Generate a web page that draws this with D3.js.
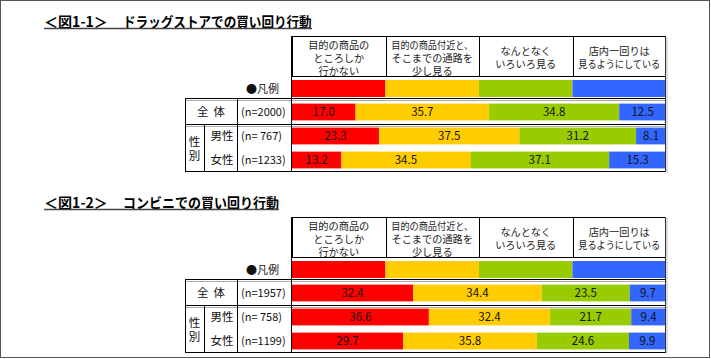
<!DOCTYPE html>
<html><head><meta charset="utf-8">
<script src="https://cdn.jsdelivr.net/npm/d3@7/dist/d3.min.js"></script>
<style>
html,body{margin:0;padding:0;background:#fff;}
svg{display:block;}
text{font-family:"Noto Sans CJK JP","Noto Sans",sans-serif;}
</style></head>
<body>
<svg id="chart" width="711" height="359"></svg>
<script>
// ---- data ----
const seriesKeys = ["s1","s2","s3","s4"];
const seriesColors = ["#FF0000","#FFCC00","#99CC00","#3366FF"];
const headerLines = [
  ["目的の商品の","ところしか","行かない"],
  ["目的の商品付近と、","そこまでの通路を","少し見る"],
  ["なんとなく","いろいろ見る"],
  ["店内一回りは","見るようにしている"]
];
const legendValues = [25,25,25,25];
const rowNames = ["全体","男性","女性"];
const titles = [["＜図1-1＞","ドラッグストアでの買い回り行動"],["＜図1-2＞","コンビニでの買い回り行動"]];
const drugN = ["(n=2000)","(n= 767)","(n=1233)"];
const convN = ["(n=1957)","(n= 758)","(n=1199)"];
const drugAll = [17.0,35.7,34.8,12.5];
const drugMale = [23.3,37.5,31.2,8.1];
const drugFemale = [13.2,34.5,37.1,15.3];
const convAll = [32.4,34.4,23.5,9.7];
const convMale = [36.6,32.4,21.7,9.4];
const convFemale = [29.7,35.8,24.6,9.9];

const svg = d3.select("#chart");
// page border
svg.append("rect").attr("x",0.5).attr("y",0.5).attr("width",709).attr("height",357)
  .attr("fill","#fff").attr("stroke","#555").attr("stroke-width",1);

const x = d3.scaleLinear().domain([0,100]).range([292,666]);
const color = d3.scaleOrdinal().domain(seriesKeys).range(seriesColors);
const fmt = d3.format(".1f");

function toRow(name, vals){ const o={name}; seriesKeys.forEach((k,i)=>o[k]=vals[i]); return o; }

function stretchText(g, x0, y0, size, str, targetW){
  const t = g.append("text").attr("x",0).attr("y",0).attr("font-size",size).attr("font-weight","bold").attr("fill","#000").text(str);
  const w = t.node().getComputedTextLength();
  t.attr("transform",`translate(${x0},${y0}) scale(${targetW/w},1)`);
  return t;
}

function panel(dy, title, nLabels, rows, t2len){
  const g = svg.append("g").attr("transform",`translate(0,${dy})`);
  // title
  stretchText(g, 44, 26.5, 14, title[0], 64);
  stretchText(g, 123, 26.5, 14, title[1], t2len);
  g.append("line").attr("x1",44).attr("x2",123+t2len).attr("y1",28.5).attr("y2",28.5).attr("stroke","#444").attr("stroke-width",1.5);

  // header
  const cols = d3.cumsum([0].concat(legendValues));
  g.append("rect").attr("x",292.5).attr("y",36.5).attr("width",373).attr("height",40).attr("fill","none").attr("stroke","#000");
  headerLines.forEach((lines,i)=>{
    if(i>0) g.append("line").attr("x1",Math.round(x(cols[i]))+0.5).attr("x2",Math.round(x(cols[i]))+0.5).attr("y1",36).attr("y2",77).attr("stroke","#000");
    const cx = (x(cols[i])+x(cols[i+1]))/2;
    const lh = 13, cy = 57.5;
    lines.forEach((s,j)=>{
      const t = g.append("text").attr("x",cx).attr("y",cy + (j-(lines.length-1)/2)*lh + 4)
        .attr("text-anchor","middle").attr("font-size",10.2).attr("fill","#222").text(s);
      const w = t.node().getComputedTextLength();
      if (w > 82) t.attr("textLength",82).attr("lengthAdjust","spacingAndGlyphs");
    });
  });

  // legend bar
  const legRow = toRow("凡例", legendValues);
  const legStack = d3.stack().keys(seriesKeys)([legRow]);
  g.append("g").selectAll("rect").data(legStack).join("rect")
    .attr("x",d=>x(d[0][0])).attr("width",d=>x(d[0][1])-x(d[0][0]))
    .attr("y",80).attr("height",17).attr("fill",d=>color(d.key));
  g.append("text").attr("x",279).attr("y",93).attr("text-anchor","end").attr("font-size",11).attr("fill","#111").text("●凡例");

  // rows
  const y = d3.scaleBand().domain(rowNames).range([100,172]).paddingInner(0.3).paddingOuter(0.15);
  const data = rows.map((v,i)=>toRow(rowNames[i], v));
  const stack = d3.stack().keys(seriesKeys)(data);
  const sg = g.append("g");
  stack.forEach(layer=>{
    sg.selectAll(null).data(layer).join("rect")
      .attr("x",d=>x(d[0])).attr("width",d=>Math.min(x(d[1]),666)-x(d[0]))
      .attr("y",d=>y(d.data.name)).attr("height",y.bandwidth())
      .attr("fill",color(layer.key));
    sg.selectAll(null).data(layer).join("text")
      .attr("x",d=>(x(d[0])+Math.min(x(d[1]),666))/2)
      .attr("y",d=>y(d.data.name)+y.bandwidth()/2+4)
      .attr("text-anchor","middle").attr("font-size",11.5)
      .attr("font-family","'Liberation Sans',sans-serif")
      .attr("fill","#111")
      .text(d=>fmt(d.data[layer.key]));
  });

  // table lines
  const dbl = (x1,x2,yy)=>{
    g.append("line").attr("x1",x1).attr("x2",x2).attr("y1",yy+0.5).attr("y2",yy+0.5).attr("stroke","#000");
    g.append("line").attr("x1",x1).attr("x2",x2).attr("y1",yy+2.5).attr("y2",yy+2.5).attr("stroke","#aaa");
  };
  dbl(185,666,98);
  dbl(185,666,124);
  g.append("line").attr("x1",185).attr("x2",666).attr("y1",171.5).attr("y2",171.5).attr("stroke","#000");
  g.append("line").attr("x1",185.5).attr("x2",185.5).attr("y1",98).attr("y2",172).attr("stroke","#000");
  g.append("line").attr("x1",204.5).attr("x2",204.5).attr("y1",124).attr("y2",172).attr("stroke","#000");
  g.append("line").attr("x1",237.5).attr("x2",237.5).attr("y1",98).attr("y2",172).attr("stroke","#000");
  g.append("line").attr("x1",291.5).attr("x2",291.5).attr("y1",36).attr("y2",172).attr("stroke","#000");
  g.append("line").attr("x1",665.5).attr("x2",665.5).attr("y1",36).attr("y2",172).attr("stroke","#333");
  g.append("line").attr("x1",667).attr("x2",667).attr("y1",37).attr("y2",173).attr("stroke","#bbb");

  // left labels
  const ly = r => y(r)+y.bandwidth()/2+4;
  g.append("text").attr("x",211).attr("y",ly("全体")).attr("text-anchor","middle").attr("font-size",11.5).attr("fill","#111")
    .style("white-space","pre").text("全  体");
  g.append("text").attr("x",222).attr("y",ly("男性")).attr("text-anchor","middle").attr("font-size",11.5).attr("fill","#111").text("男性");
  g.append("text").attr("x",222).attr("y",ly("女性")).attr("text-anchor","middle").attr("font-size",11.5).attr("fill","#111").text("女性");
  g.append("text").attr("x",194.5).attr("y",146).attr("text-anchor","middle").attr("font-size",11.5).attr("fill","#111").text("性");
  g.append("text").attr("x",194.5).attr("y",160).attr("text-anchor","middle").attr("font-size",11.5).attr("fill","#111").text("別");
  rowNames.forEach((r,i)=>{
    g.append("text").attr("x",241).attr("y",ly(r)).attr("font-size",11).attr("fill","#111")
      .style("white-space","pre").text(nLabels[i]);
  });
}

panel(0, titles[0], drugN, [drugAll, drugMale, drugFemale], 189);
panel(181, titles[1], convN, [convAll, convMale, convFemale], 156);
</script>
</body></html>
